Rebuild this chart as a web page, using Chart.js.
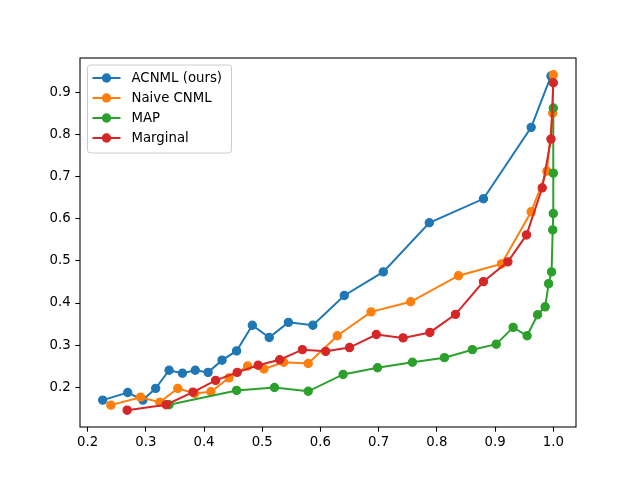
<!DOCTYPE html>
<html lang="en">
<head>
<meta charset="UTF-8">
<title>chart</title>
<script src="https://cdn.jsdelivr.net/npm/chart.js@4"></script>
<style>
  body { margin: 0; background: #fff; }
  canvas { display: block; }
</style>
</head>
<body>
<canvas id="c" width="640" height="480"></canvas>
<script>
// values
const acnmlX = [0.226, 0.269, 0.295, 0.317, 0.340, 0.363, 0.385, 0.407, 0.431, 0.456, 0.483, 0.512, 0.545, 0.587, 0.641, 0.708, 0.787, 0.880, 0.962, 0.996];
const acnmlY = [0.169, 0.187, 0.169, 0.197, 0.240, 0.233, 0.240, 0.235, 0.264, 0.286, 0.347, 0.318, 0.354, 0.347, 0.418, 0.474, 0.591, 0.648, 0.818, 0.940];

const naiveX = [0.240, 0.291, 0.324, 0.355, 0.384, 0.412, 0.443, 0.475, 0.503, 0.537, 0.579, 0.629, 0.687, 0.755, 0.837, 0.911, 0.962, 0.989, 0.999, 1.000];
const naiveY = [0.157, 0.176, 0.164, 0.197, 0.185, 0.189, 0.222, 0.250, 0.243, 0.259, 0.256, 0.322, 0.379, 0.403, 0.465, 0.493, 0.617, 0.714, 0.852, 0.943];

const mapX = [0.340, 0.456, 0.521, 0.579, 0.639, 0.698, 0.758, 0.813, 0.861, 0.902, 0.931, 0.955, 0.973, 0.986, 0.992, 0.997, 0.999, 1.000, 1.000, 1.000];
const mapY = [0.158, 0.192, 0.199, 0.190, 0.230, 0.246, 0.259, 0.270, 0.289, 0.302, 0.342, 0.322, 0.372, 0.391, 0.446, 0.474, 0.574, 0.613, 0.709, 0.864];

const margX = [0.268, 0.335, 0.381, 0.420, 0.457, 0.493, 0.530, 0.569, 0.609, 0.650, 0.696, 0.742, 0.788, 0.832, 0.880, 0.922, 0.954, 0.981, 0.996, 1.000];
const margY = [0.145, 0.158, 0.188, 0.216, 0.235, 0.252, 0.265, 0.289, 0.285, 0.294, 0.325, 0.317, 0.330, 0.373, 0.451, 0.498, 0.562, 0.674, 0.790, 0.924];

const xTicks = [0.2, 0.3, 0.4, 0.5, 0.6, 0.7, 0.8, 0.9, 1.0];
const yTicks = [0.2, 0.3, 0.4, 0.5, 0.6, 0.7, 0.8, 0.9];

const seriesNames = ['ACNML (ours)', 'Naive CNML', 'MAP', 'Marginal'];
const seriesColors = ['#1f77b4', '#ff7f0e', '#2ca02c', '#d62728'];

const toPoints = (xs, ys) => xs.map((x, i) => ({ x: x, y: ys[i] }));
const allX = [acnmlX, naiveX, mapX, margX];
const allY = [acnmlY, naiveY, mapY, margY];

const FONT = 'DejaVu Sans';

const frame = {
  id: 'frame',
  afterDraw(chart) {
    const ctx = chart.ctx, a = chart.chartArea;
    ctx.save();
    ctx.strokeStyle = '#000';
    ctx.lineWidth = 1.07;
    ctx.strokeRect(a.left, a.top, a.right - a.left, a.bottom - a.top);

    // legend, matplotlib style
    const bx = 87.5, by = 65, bw = 144, bh = 88;
    ctx.fillStyle = 'rgba(255,255,255,0.8)';
    ctx.strokeStyle = '#cccccc';
    ctx.lineWidth = 1;
    ctx.beginPath();
    ctx.roundRect(bx, by, bw, bh, 3);
    ctx.fill();
    ctx.stroke();
    ctx.font = '13.3px ' + FONT;
    ctx.textBaseline = 'middle';
    seriesNames.forEach((name, i) => {
      const yy = 78 + i * 20;
      ctx.strokeStyle = seriesColors[i];
      ctx.lineWidth = 2;
      ctx.beginPath();
      ctx.moveTo(92.5, yy);
      ctx.lineTo(120.5, yy);
      ctx.stroke();
      ctx.fillStyle = seriesColors[i];
      ctx.beginPath();
      ctx.arc(106.5, yy, 4.7, 0, Math.PI * 2);
      ctx.fill();
      ctx.fillStyle = '#000';
      ctx.fillText(name, 131.5, yy + 1);
    });
    ctx.restore();
  }
};

new Chart(document.getElementById('c'), {
  type: 'scatter',
  data: {
    datasets: seriesNames.map((name, i) => ({
      label: name,
      data: toPoints(allX[i], allY[i]),
      showLine: true,
      borderColor: seriesColors[i],
      backgroundColor: seriesColors[i],
      borderWidth: 2,
      pointRadius: 4.1,
      pointHoverRadius: 4.1,
      pointBorderWidth: 1.2,
      pointBorderColor: seriesColors[i],
      order: 4 - i
    }))
  },
  options: {
    responsive: false,
    animation: false,
    layout: { padding: { top: 58, right: 64, left: 0, bottom: 0 } },
    plugins: { legend: { display: false }, tooltip: { enabled: false } },
    scales: {
      x: {
        type: 'linear',
        min: 0.187,
        max: 1.039,
        afterBuildTicks: s => { s.ticks = xTicks.map(v => ({ value: v })); },
        afterFit: s => { s.height = 53; },
        grid: { display: true, drawOnChartArea: false, tickLength: 4.7, tickWidth: 1.07, tickColor: '#000' },
        border: { display: false },
        ticks: { color: '#000', padding: 3, maxRotation: 0, autoSkip: false, font: { family: FONT, size: 13.3 }, callback: v => v.toFixed(1) }
      },
      y: {
        type: 'linear',
        min: 0.105,
        max: 0.983,
        afterBuildTicks: s => { s.ticks = yTicks.map(v => ({ value: v })); },
        afterFit: s => { s.width = 80; },
        grid: { display: true, drawOnChartArea: false, tickLength: 4.7, tickWidth: 1.07, tickColor: '#000' },
        border: { display: false },
        ticks: { color: '#000', padding: 4.7, autoSkip: false, font: { family: FONT, size: 13.3 }, callback: v => v.toFixed(1) }
      }
    }
  },
  plugins: [frame]
});
</script>
</body>
</html>
